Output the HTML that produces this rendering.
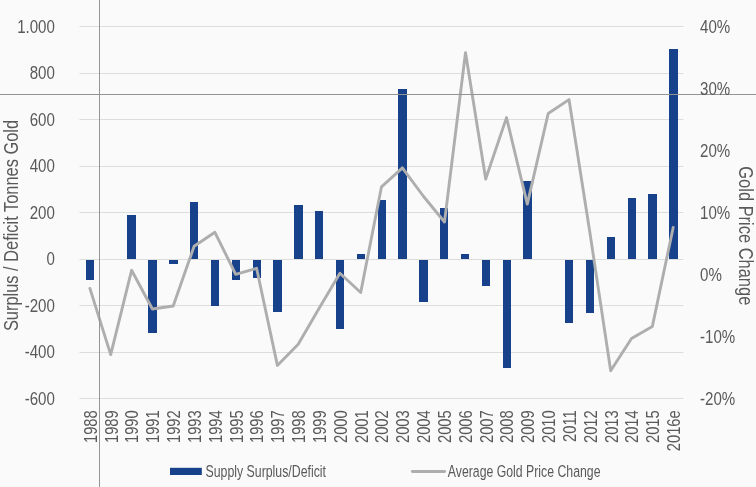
<!DOCTYPE html>
<html lang="en"><head><meta charset="utf-8"><title>Gold Supply Surplus/Deficit vs Average Gold Price Change</title>
<style>html,body{margin:0;padding:0;background:#fafafa;}body{width:756px;height:487px;overflow:hidden;}svg{display:block}</style>
</head><body>
<svg width="756" height="487" viewBox="0 0 756 487" font-family="&quot;Liberation Sans&quot;, sans-serif" fill="#595959">
<rect width="756" height="487" fill="#fafafa"/>
<rect x="79.5" y="26" width="604" height="1" fill="#dddddd"/>
<rect x="79.5" y="73" width="604" height="1" fill="#dddddd"/>
<rect x="79.5" y="119" width="604" height="1" fill="#dddddd"/>
<rect x="79.5" y="166" width="604" height="1" fill="#dddddd"/>
<rect x="79.5" y="212" width="604" height="1" fill="#dddddd"/>
<rect x="79.5" y="259" width="604" height="1" fill="#dddddd"/>
<rect x="79.5" y="305" width="604" height="1" fill="#dddddd"/>
<rect x="79.5" y="352" width="604" height="1" fill="#dddddd"/>
<rect x="79.5" y="398" width="604" height="1" fill="#dddddd"/>
<rect x="86" y="260" width="8" height="20" fill="#17428b"/>
<rect x="127" y="215" width="9" height="44" fill="#17428b"/>
<rect x="148" y="260" width="9" height="73" fill="#17428b"/>
<rect x="169" y="260" width="9" height="4" fill="#17428b"/>
<rect x="190" y="202" width="8" height="57" fill="#17428b"/>
<rect x="211" y="260" width="8" height="46" fill="#17428b"/>
<rect x="232" y="260" width="8" height="20" fill="#17428b"/>
<rect x="253" y="260" width="8" height="18" fill="#17428b"/>
<rect x="273" y="260" width="9" height="52" fill="#17428b"/>
<rect x="294" y="205" width="9" height="54" fill="#17428b"/>
<rect x="315" y="211" width="8" height="48" fill="#17428b"/>
<rect x="336" y="260" width="8" height="69" fill="#17428b"/>
<rect x="357" y="254" width="8" height="5" fill="#17428b"/>
<rect x="378" y="200" width="8" height="59" fill="#17428b"/>
<rect x="398" y="89" width="9" height="170" fill="#17428b"/>
<rect x="419" y="260" width="9" height="42" fill="#17428b"/>
<rect x="440" y="208" width="8" height="51" fill="#17428b"/>
<rect x="461" y="254" width="8" height="5" fill="#17428b"/>
<rect x="482" y="260" width="8" height="26" fill="#17428b"/>
<rect x="503" y="260" width="8" height="108" fill="#17428b"/>
<rect x="523" y="181" width="9" height="78" fill="#17428b"/>
<rect x="565" y="260" width="8" height="63" fill="#17428b"/>
<rect x="586" y="260" width="8" height="53" fill="#17428b"/>
<rect x="607" y="237" width="8" height="22" fill="#17428b"/>
<rect x="628" y="198" width="8" height="61" fill="#17428b"/>
<rect x="648" y="194" width="9" height="65" fill="#17428b"/>
<rect x="669" y="49" width="9" height="210" fill="#17428b"/>
<polyline points="89.9,288.4 110.7,354.6 131.6,270.3 152.4,309.0 173.2,306.0 194.1,246.3 214.9,232.3 235.7,274.3 256.6,268.3 277.4,365.4 298.2,344.2 319.0,308.6 339.9,273.3 360.7,292.5 381.5,186.8 402.4,167.9 423.2,196.0 444.5,222.0 465.5,52.6 485.7,179.0 506.5,117.6 527.3,204.1 548.2,113.5 569.0,99.6 589.8,232.0 610.7,370.8 631.5,338.5 652.3,326.6 673.2,227.5" fill="none" stroke="#aeaeae" stroke-width="2.9" stroke-linejoin="round" stroke-linecap="round"/>
<rect x="0" y="94" width="756" height="1" fill="#949494"/>
<rect x="99" y="0" width="1" height="487" fill="#949494"/>
<text transform="translate(54.9,32.80) scale(0.848,1)" font-size="17.8" text-anchor="end">1.000</text>
<text transform="translate(54.9,79.30) scale(0.848,1)" font-size="17.8" text-anchor="end">800</text>
<text transform="translate(54.9,125.80) scale(0.848,1)" font-size="17.8" text-anchor="end">600</text>
<text transform="translate(54.9,172.30) scale(0.848,1)" font-size="17.8" text-anchor="end">400</text>
<text transform="translate(54.9,218.80) scale(0.848,1)" font-size="17.8" text-anchor="end">200</text>
<text transform="translate(54.9,265.30) scale(0.848,1)" font-size="17.8" text-anchor="end">0</text>
<text transform="translate(54.9,311.80) scale(0.848,1)" font-size="17.8" text-anchor="end">-200</text>
<text transform="translate(54.9,358.30) scale(0.848,1)" font-size="17.8" text-anchor="end">-400</text>
<text transform="translate(54.9,404.80) scale(0.848,1)" font-size="17.8" text-anchor="end">-600</text>
<text transform="translate(700.0,32.80) scale(0.848,1)" font-size="17.8">40%</text>
<text transform="translate(700.0,94.80) scale(0.848,1)" font-size="17.8">30%</text>
<text transform="translate(700.0,156.80) scale(0.848,1)" font-size="17.8">20%</text>
<text transform="translate(700.0,218.80) scale(0.848,1)" font-size="17.8">10%</text>
<text transform="translate(700.0,280.80) scale(0.848,1)" font-size="17.8">0%</text>
<text transform="translate(700.0,342.80) scale(0.848,1)" font-size="17.8">-10%</text>
<text transform="translate(700.0,404.80) scale(0.848,1)" font-size="17.8">-20%</text>
<text transform="translate(96.81,410.2) rotate(-90) scale(0.84,1.09)" font-size="17.6" text-anchor="end">1988</text>
<text transform="translate(117.65,410.2) rotate(-90) scale(0.84,1.09)" font-size="17.6" text-anchor="end">1989</text>
<text transform="translate(138.47,410.2) rotate(-90) scale(0.84,1.09)" font-size="17.6" text-anchor="end">1990</text>
<text transform="translate(159.31,410.2) rotate(-90) scale(0.84,1.09)" font-size="17.6" text-anchor="end">1991</text>
<text transform="translate(180.13,410.2) rotate(-90) scale(0.84,1.09)" font-size="17.6" text-anchor="end">1992</text>
<text transform="translate(200.97,410.2) rotate(-90) scale(0.84,1.09)" font-size="17.6" text-anchor="end">1993</text>
<text transform="translate(221.79,410.2) rotate(-90) scale(0.84,1.09)" font-size="17.6" text-anchor="end">1994</text>
<text transform="translate(242.62,410.2) rotate(-90) scale(0.84,1.09)" font-size="17.6" text-anchor="end">1995</text>
<text transform="translate(263.45,410.2) rotate(-90) scale(0.84,1.09)" font-size="17.6" text-anchor="end">1996</text>
<text transform="translate(284.28,410.2) rotate(-90) scale(0.84,1.09)" font-size="17.6" text-anchor="end">1997</text>
<text transform="translate(305.11,410.2) rotate(-90) scale(0.84,1.09)" font-size="17.6" text-anchor="end">1998</text>
<text transform="translate(325.94,410.2) rotate(-90) scale(0.84,1.09)" font-size="17.6" text-anchor="end">1999</text>
<text transform="translate(346.77,410.2) rotate(-90) scale(0.84,1.09)" font-size="17.6" text-anchor="end">2000</text>
<text transform="translate(367.60,410.2) rotate(-90) scale(0.84,1.09)" font-size="17.6" text-anchor="end">2001</text>
<text transform="translate(388.43,410.2) rotate(-90) scale(0.84,1.09)" font-size="17.6" text-anchor="end">2002</text>
<text transform="translate(409.26,410.2) rotate(-90) scale(0.84,1.09)" font-size="17.6" text-anchor="end">2003</text>
<text transform="translate(430.09,410.2) rotate(-90) scale(0.84,1.09)" font-size="17.6" text-anchor="end">2004</text>
<text transform="translate(450.92,410.2) rotate(-90) scale(0.84,1.09)" font-size="17.6" text-anchor="end">2005</text>
<text transform="translate(471.75,410.2) rotate(-90) scale(0.84,1.09)" font-size="17.6" text-anchor="end">2006</text>
<text transform="translate(492.58,410.2) rotate(-90) scale(0.84,1.09)" font-size="17.6" text-anchor="end">2007</text>
<text transform="translate(513.41,410.2) rotate(-90) scale(0.84,1.09)" font-size="17.6" text-anchor="end">2008</text>
<text transform="translate(534.25,410.2) rotate(-90) scale(0.84,1.09)" font-size="17.6" text-anchor="end">2009</text>
<text transform="translate(555.07,410.2) rotate(-90) scale(0.84,1.09)" font-size="17.6" text-anchor="end">2010</text>
<text transform="translate(575.90,410.2) rotate(-90) scale(0.84,1.09)" font-size="17.6" text-anchor="end">2011</text>
<text transform="translate(596.74,410.2) rotate(-90) scale(0.84,1.09)" font-size="17.6" text-anchor="end">2012</text>
<text transform="translate(617.56,410.2) rotate(-90) scale(0.84,1.09)" font-size="17.6" text-anchor="end">2013</text>
<text transform="translate(638.39,410.2) rotate(-90) scale(0.84,1.09)" font-size="17.6" text-anchor="end">2014</text>
<text transform="translate(659.22,410.2) rotate(-90) scale(0.84,1.09)" font-size="17.6" text-anchor="end">2015</text>
<text transform="translate(680.05,410.2) rotate(-90) scale(0.84,1.09)" font-size="17.6" text-anchor="end">2016e</text>
<text transform="translate(18.2,225.5) rotate(-90) scale(0.855,1.06)" font-size="19.2" text-anchor="middle">Surplus / Deficit Tonnes Gold</text>
<text transform="translate(738.6,235.8) rotate(90) scale(0.857,1.05)" font-size="19.2" text-anchor="middle">Gold Price Change</text>
<rect x="170" y="467.8" width="31.8" height="7.2" fill="#17428b"/>
<text transform="translate(205.5,477) scale(0.79,1)" font-size="15.6">Supply Surplus/Deficit</text>
<line x1="412.4" y1="471.45" x2="444.6" y2="471.45" stroke="#aeaeae" stroke-width="2.9" stroke-linecap="round"/>
<text transform="translate(447.8,477) scale(0.788,1)" font-size="15.6">Average Gold Price Change</text>
</svg>
</body></html>
